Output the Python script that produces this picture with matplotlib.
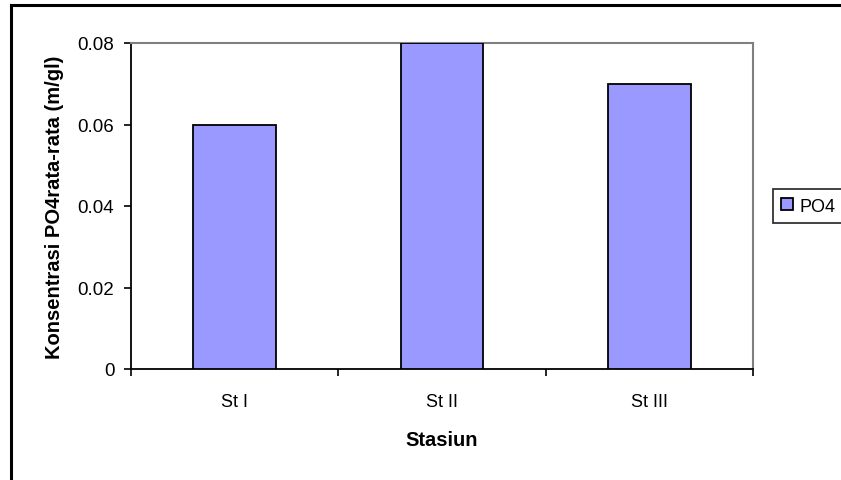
import matplotlib.pyplot as plt
from matplotlib.lines import Line2D

plt.rcParams['font.family'] = ['Liberation Sans', 'DejaVu Sans']

stasiun = ['St I', 'St II', 'St III']
po4 = [0.06, 0.08, 0.07]
y_ticks = [0, 0.02, 0.04, 0.06, 0.08]
y_labels = ['0', '0.02', '0.04', '0.06', '0.08']

W, H = 841, 481
fig = plt.figure(figsize=(W / 100, H / 100), dpi=100)
ax = fig.add_axes([131 / W, 1 - 370 / H, (753 - 131) / W, (370 - 44) / H])

x = range(len(stasiun))
ax.bar(x, po4, width=0.4, color='#9999ff', edgecolor='black', linewidth=1.3,
       label='PO4', zorder=3)

ax.set_xlim(-0.5, 2.5)
ax.set_ylim(0, 0.08)
ax.set_xticks(list(x))
ax.set_xticklabels(stasiun, fontsize=13)
ax.set_xticks([-0.5, 0.5, 1.5, 2.5], minor=True)
ax.tick_params(axis='x', which='major', length=0, pad=17)
ax.tick_params(axis='x', which='minor', length=5, width=1.2, color='black')
ax.set_yticks(y_ticks)
ax.set_yticklabels(y_labels, fontsize=13.5)
ax.tick_params(axis='y', length=5, width=1.2, color='black', pad=7)

for side in ('left', 'bottom'):
    ax.spines[side].set_color('black')
    ax.spines[side].set_linewidth(1.3)
for side in ('top', 'right'):
    ax.spines[side].set_color('#808080')
    ax.spines[side].set_linewidth(1.5)

ax.set_xlabel('Stasiun', fontsize=14.5, fontweight='bold', labelpad=15)
ax.set_ylabel('Konsentrasi PO4rata-rata (m/gl)', fontsize=14.5, fontweight='bold',
              labelpad=10)

leg = fig.legend(loc='center left', bbox_to_anchor=(773 / W, 1 - 207 / H),
                 borderaxespad=0, fontsize=13, frameon=True, fancybox=False,
                 borderpad=0.45, handlelength=0.65, handleheight=0.65,
                 handletextpad=0.35)
leg.get_frame().set_edgecolor('black')
leg.get_frame().set_linewidth(1.3)

# outer chart frame (left and top edges)
fig.add_artist(Line2D([11 / W, 11 / W], [0, 1 - 6 / H], color='black', lw=2.2,
                      transform=fig.transFigure))
fig.add_artist(Line2D([11 / W, 1], [1 - 6 / H, 1 - 6 / H], color='black', lw=2.2,
                      transform=fig.transFigure))

fig.savefig('out.png', dpi=100)
